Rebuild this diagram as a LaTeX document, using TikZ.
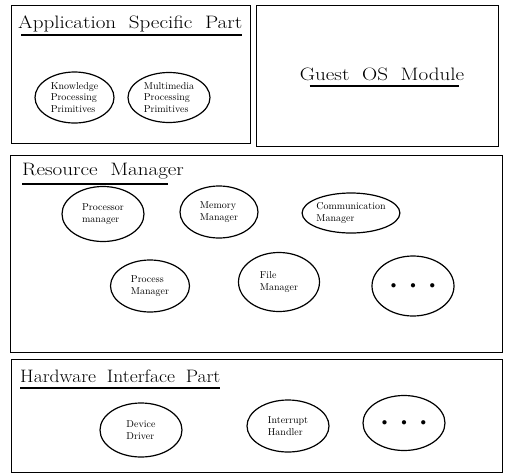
\documentclass[tikz,border=0pt]{standalone}
\usetikzlibrary{shapes.geometric}
\newcommand\wgap{\hspace{0.6em}}
\newcommand\threedots{$\bullet$\hspace{14pt}$\bullet$\hspace{14pt}$\bullet$}
\begin{document}
\begin{tikzpicture}[x=1pt,y=-1pt,
  panel/.style={draw,line width=1pt,rectangle,inner sep=0pt,anchor=north west},
  title/.style={inner sep=0pt,font=\fontsize{18}{20}\selectfont,xscale=1.17,transform shape},
  rule/.style={line width=1.4pt},
  module/.style={draw,ellipse,line width=1.2pt,inner sep=0pt,align=left,
    font=\fontsize{10}{11.5}\selectfont},
  more/.style={module,font=\fontsize{11}{11}\selectfont}
]
\useasboundingbox (0,0) rectangle (507,475);

% the four layers
\node[panel,minimum width=239pt,minimum height=138pt] (app) at (11,5) {};
\node[panel,minimum width=242pt,minimum height=141pt] (guest) at (256,5) {};
\node[panel,minimum width=492pt,minimum height=197pt] (res) at (10,155) {};
\node[panel,minimum width=491pt,minimum height=113pt] (hw) at (11,359) {};

% layer titles with their underlines
\node[title,anchor=base west] (tapp) at (18,28) {Application\wgap Specific\wgap Part};
\draw[rule] ([xshift=3pt,yshift=-7pt]tapp.base west) -- ([xshift=-1pt,yshift=-7pt]tapp.base east);
\node[title,anchor=base] (tguest) at (382,80) {Guest\wgap OS\wgap Module};
\draw[rule] ([xshift=10pt,yshift=-6pt]tguest.base west) -- ([xshift=-5pt,yshift=-6pt]tguest.base east);
\node[title,anchor=base west] (tres) at (22,175) {Resource\wgap Manager};
\draw[rule] ([yshift=-9pt]tres.base west) -- ([xshift=-16pt,yshift=-9pt]tres.base east);
\node[title,anchor=base west,xscale=0.93] (thw) at (20,382) {Hardware\hspace{0.55em}Interface\hspace{0.55em}Part};
\draw[rule] ([yshift=-6pt]thw.base west) -- ([xshift=-1pt,yshift=-6pt]thw.base east);

% application specific primitives
\node[module,minimum width=79pt,minimum height=51pt] (know) at (74.5,97.5) {Knowledge\\Processing\\Primitives};
\node[module,minimum width=82pt,minimum height=50pt] (mm) at (169,97.5) {Multimedia\\Processing\\Primitives};

% resource managers
\node[module,minimum width=82pt,minimum height=55pt] (proc) at (103,214) {Processor\\manager};
\node[module,minimum width=78pt,minimum height=52pt] (mem) at (219,212) {Memory\\Manager};
\node[module,minimum width=97pt,minimum height=40pt] (comm) at (351,213) {Communication\\Manager};
\node[module,minimum width=79pt,minimum height=52pt] (pm) at (150,286) {Process\\Manager};
\node[module,minimum width=81pt,minimum height=59pt] (fm) at (279,282) {File\\Manager};
\node[more,minimum width=82pt,minimum height=60pt] (rmore) at (413,286) {\threedots};

% hardware interface modules
\node[module,minimum width=82pt,minimum height=54pt] (dev) at (141,430) {Device\\Driver};
\node[module,minimum width=82pt,minimum height=52pt] (irq) at (288,426) {Interrupt\\Handler};
\node[more,minimum width=82pt,minimum height=55pt] (hmore) at (404,423) {\threedots};
\end{tikzpicture}
\end{document}
